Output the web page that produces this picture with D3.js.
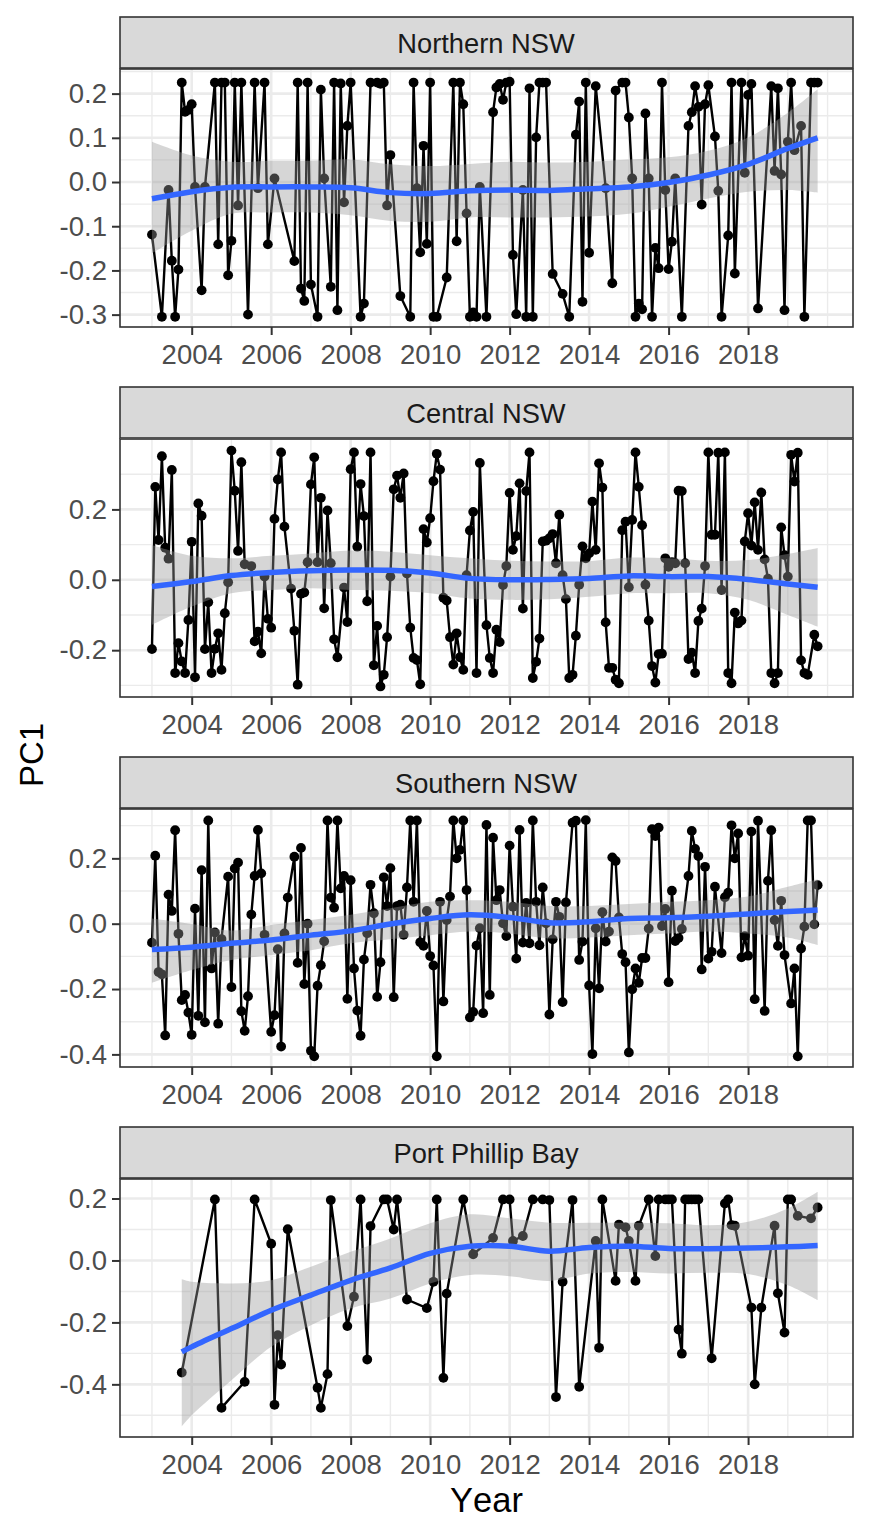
<!DOCTYPE html>
<html>
<head>
<meta charset="utf-8">
<title>PC1 by year</title>
<script src="https://cdnjs.cloudflare.com/ajax/libs/d3/7.8.5/d3.min.js"></script>
<style>
    body { margin: 0; background: #fff; }
    svg { display: block; }
    text { font-family: "Liberation Sans", Arial, sans-serif; font-kerning: none; }
</style>
</head>
<body>
<div id="chart"></div>
<script>
// Data. Months are counted from January 2003.

var regionNames = ["Northern NSW", "Central NSW", "Southern NSW", "Port Phillip Bay"];
var yearTicks = [2004, 2006, 2008, 2010, 2012, 2014, 2016, 2018];
var yearMinor = [2003, 2005, 2007, 2009, 2011, 2013, 2015, 2017, 2019, 2020];

var northTicks = [-0.3, -0.2, -0.1, 0, 0.1, 0.2];
var centralTicks = [-0.2, 0, 0.2];
var southTicks = [-0.4, -0.2, 0, 0.2];
var portTicks = [-0.4, -0.2, 0, 0.2];

var northMonths = [0,3,5,6,7,8,9,10,11,12,
    13,15,16,19,20,21,22,23,24,25,
    26,27,29,31,32,34,35,37,43,44,
    45,46,47,48,50,51,52,54,55,56,
    57,58,59,60,63,64,66,68,69,70,
    71,72,75,78,79,80,81,82,83,84,
    85,86,89,91,92,93,94,95,96,97,
    98,99,101,103,104,105,106,107,108,109,
    110,112,113,114,115,116,117,118,119,121,124,
    126,128,129,130,131,132,134,137,139,140,
    142,143,144,145,146,147,148,149,150,151,
    152,153,154,155,156,157,158,160,162,163,
    164,165,166,167,168,170,171,172,174,175,
    176,178,179,180,181,183,187,188,189,190,
    191,192,193,194,196,197,199,200,201];
var northPC1 = [-.119,-.305,-.018,-.178,-.305,-.198,.225,.159,.163,.176,
    -.011,-.245,-.011,.225,-.141,.225,.225,-.211,-.133,.225,
    -.053,.225,-.30,.225,-.014,.225,-.141,.008,-.179,.225,
    -.241,-.269,.225,-.232,-.305,.209,.008,-.237,.225,-.29,
    .223,-.046,.127,.225,-.305,-.275,.225,.225,.222,.225,
    -.053,.061,-.258,-.305,.225,-.014,-.159,.082,-.14,.225,
    -.305,-.305,-.216,.225,-.134,.225,.176,-.071,-.305,-.295,
    -.305,-.011,-.305,.158,.214,.222,.186,.225,.227,-.165,
    -.299,-.018,-.305,.212,-.305,.101,.225,.225,.225,-.208,-.253,
    -.305,.107,.182,-.271,.225,-.16,.217,-.014,-.229,.207,
    .225,.225,.146,.008,-.305,-.275,-.288,.155,.008,-.305,
    -.149,-.195,.225,-.018,-.197,-.135,.008,-.305,.127,.158,
    .217,.17,-.051,.176,.219,.103,-.02,-.305,-.121,.225,
    -.207,.225,.021,.197,.222,-.286,.217,.025,.212,.017,
    -.29,.091,.225,.072,.127,-.305,.225,.225,.225];

var centralMonths = [0,1,2,3,4,5,6,7,8,9,
    10,11,12,13,14,15,16,17,18,19,
    20,21,22,23,24,25,26,27,28,30,
    31,32,33,34,35,36,37,38,39,40,
    42,43,44,45,46,47,48,49,50,51,
    52,53,54,55,56,58,59,60,61,62,
    63,64,65,66,67,68,69,70,71,72,
    73,74,75,76,77,78,79,80,81,82,
    83,84,85,86,87,88,89,90,91,92,
    93,94,95,96,97,98,99,101,102,103,
    104,105,106,107,108,109,110,111,112,113,
    114,115,116,117,118,119,120,121,122,123,
    124,125,126,127,128,129,130,131,132,133,
    134,135,136,137,138,139,140,141,142,143,
    144,145,146,147,148,149,150,151,152,153,
    154,155,156,157,158,159,160,161,162,163,
    164,165,166,167,168,169,170,171,172,173,
    174,175,176,177,178,179,180,181,182,183,
    184,185,186,187,188,189,190,191,192,193,
    194,195,196,197,198,200,201];
var centralPC1 = [-.197,.264,.113,.351,.091,.06,.312,-.265,-.18,-.232,
    -.265,-.114,.108,-.277,.217,.182,-.197,-.064,-.265,-.196,
    -.152,-.256,-.095,-.007,.367,.253,.082,.334,.044,.039,
    -.175,-.147,-.209,.009,-.111,-.136,.173,.285,.362,.151,
    -.025,-.145,-.298,-.04,-.036,.05,.271,.348,.05,.233,
    -.081,.197,.047,-.169,-.22,-.022,-.12,.314,.362,.094,
    .272,.181,-.061,.362,-.243,-.131,-.303,-.27,-.163,.009,
    .257,.296,.233,.302,.018,-.136,-.222,-.228,-.297,.144,
    .106,.175,.28,.358,.313,-.051,-.059,-.163,-.241,-.152,
    -.22,-.256,.013,.14,.193,-.265,.332,-.129,-.222,-.265,
    -.142,-.177,-.015,.039,.247,.085,.124,.274,-.082,.252,
    .362,-.279,-.233,-.167,.109,.111,.118,.13,.047,.185,
    .013,-.055,-.279,-.27,-.159,-.014,.095,.061,.075,.222,
    .085,.331,.262,-.121,-.25,-.25,-.284,-.294,.141,.165,
    -.021,.17,.362,.264,.155,-.014,-.116,-.245,-.292,-.211,
    -.21,.061,.037,.05,.047,.253,.252,.047,-.225,-.207,
    -.265,-.117,-.082,.039,.362,.128,.128,.361,-.029,.362,
    -.265,-.294,-.093,-.124,-.116,.109,.189,.097,.22,.085,
    .248,.058,.003,-.265,-.294,-.265,.149,.07,.009,.355,
    .279,.361,-.229,-.265,-.27,-.156,-.189];

var southMonths = [0,1,2,3,4,5,6,7,8,9,
    10,11,12,13,14,15,16,17,18,19,
    20,21,23,24,25,26,27,28,29,30,
    31,32,33,34,36,37,38,39,40,41,
    43,44,45,46,47,48,49,50,51,52,
    53,54,55,56,57,58,59,60,61,62,
    63,64,65,66,67,68,69,70,71,72,
    73,74,75,76,77,78,79,80,81,82,
    83,84,85,86,87,88,89,90,91,92,
    93,94,95,96,97,98,99,100,101,102,
    103,104,105,106,107,108,109,110,111,112,
    113,114,115,116,117,118,119,120,121,122,
    123,124,125,127,128,129,130,131,132,133,
    134,135,136,137,138,139,140,141,142,143,
    144,145,146,147,148,149,150,151,152,153,
    154,155,156,157,158,159,160,162,163,164,
    165,166,167,168,169,170,172,173,174,175,
    176,177,178,179,180,181,182,183,185,186,
    187,188,189,190,191,193,194,195,196,197,
    198,199,200,201];
var southPC1 = [-.058,.208,-.148,-.155,-.342,.089,.039,.286,-.031,-.234,
    -.218,-.272,-.34,.046,-.282,.164,-.302,.316,-.137,-.027,
    -.306,-.047,.144,-.194,.169,.187,-.268,-.328,-.222,.028,
    .146,.287,.154,-.034,-.331,-.28,-.078,-.376,-.03,.08,
    .205,-.12,.232,-.185,0,-.389,-.406,-.19,-.127,-.054,
    .316,.08,.049,.316,.108,.146,-.23,.133,-.137,-.266,
    -.343,-.11,-.029,.119,.032,-.224,-.118,.142,.054,.17,
    -.225,.054,.058,-.034,.111,.316,.067,.316,-.057,-.068,
    .039,-.099,-.128,-.406,.067,-.238,.011,.083,.316,.2,
    .226,.316,.103,-.287,-.27,-.067,-.014,-.274,.302,-.218,
    .263,.072,.103,.001,-.038,.239,.052,-.107,.287,-.058,
    .064,-.06,.316,.067,-.066,.111,.001,-.278,-.048,.067,
    .021,-.24,.065,.309,.315,-.111,-.055,.317,-.189,-.399,
    -.014,-.198,.035,-.055,-.024,.203,.192,.019,-.093,-.118,
    -.394,-.201,-.137,-.181,-.105,-.105,-.015,.289,.268,.294,
    -.007,.045,-.179,.101,-.053,-.044,-.016,.146,.284,.229,
    .207,-.14,.174,-.107,-.086,.113,-.09,.081,.095,.301,
    .2,.276,-.103,-.038,-.098,.282,-.231,.315,-.267,.131,
    .286,.011,-.068,.07,-.096,-.244,-.137,-.406,-.076,-.009,
    .316,.316,-.002,.118];

var portMonths = [9,19,21,28,31,36,37,38,39,41,
    50,51,53,54,59,61,63,65,66,70,
    71,73,74,77,83,85,86,88,89,94,
    97,103,106,108,109,112,115,118,120,122,
    124,127,129,134,135,136,140,141,143,144,
    146,147,150,152,153,155,156,157,159,160,
    161,162,163,164,165,169,173,174,175,176,
    181,182,184,188,189,191,192,193,195,199,
    201];
var portPC1 = [-.362,.197,-.476,-.392,.197,.054,-.466,-.241,-.336,.101,
    -.411,-.476,-.367,.195,-.212,-.117,.197,-.32,.111,.197,
    .197,.1,.197,-.126,-.154,-.069,.197,-.379,-.107,.197,
    .02,.073,.197,.197,.063,.079,.197,.197,.195,-.441,
    -.069,.195,-.408,.063,-.282,.197,-.066,.116,.107,.063,
    -.066,.112,.197,.014,.197,.197,.197,.197,-.223,-.301,
    .197,.197,.197,.197,.197,-.316,.184,.197,.114,.112,
    -.152,-.4,-.152,.112,-.106,-.233,.197,.197,.144,.136,
    .171];

// Smoothed trend and its band, read at each year
var smoothYears = [2003,2004,2005,2006,2007,2008,2009,2010,2011,2012,2013,2014,2015,2016,2017,2018,2019,2019.75];
var portYears = [2003.75,2004,2005,2006,2007,2008,2009,2010,2011,2012,2013,2014,2015,2016,2017,2018,2019,2019.75];

var northFit = [-.038,-.022,-.012,-.011,-.011,-.013,-.024,-.026,-.02,-.018,-.019,-.015,-.011,-.001,.016,.04,.076,.10];
var northUpper = [.091,.06,.046,.048,.048,.051,.04,.036,.041,.046,.044,.046,.051,.056,.071,.101,.157,.21];
var northLower = [-.161,-.11,-.072,-.069,-.069,-.075,-.088,-.09,-.08,-.08,-.08,-.078,-.072,-.056,-.037,-.022,-.018,-.024];

var centralFit = [-.019,-.005,.012,.021,.026,.028,.027,.019,.004,0,.001,.004,.011,.009,.009,.001,-.012,-.021];
var centralUpper = [.099,.068,.061,.068,.075,.083,.08,.07,.061,.054,.052,.053,.063,.061,.054,.056,.073,.09];
var centralLower = [-.128,-.076,-.038,-.029,-.024,-.029,-.031,-.038,-.053,-.057,-.055,-.048,-.038,-.038,-.038,-.057,-.1,-.133];

var southFit = [-.079,-.072,-.06,-.05,-.035,-.022,-.001,.016,.027,.019,.003,.006,.016,.018,.023,.03,.037,.042];
var southUpper = [.016,-.001,-.021,-.004,.011,.027,.047,.067,.072,.067,.054,.054,.06,.067,.072,.083,.113,.136];
var southLower = [-.181,-.142,-.111,-.096,-.081,-.06,-.048,-.035,-.024,-.03,-.045,-.042,-.035,-.03,-.024,-.03,-.042,-.065];

var portFit = [-.295,-.279,-.22,-.161,-.112,-.064,-.024,.023,.046,.046,.03,.042,.046,.039,.038,.04,.044,.048];
var portUpper = [-.061,-.069,-.074,-.064,-.02,.028,.071,.12,.149,.136,.122,.122,.122,.12,.114,.125,.168,.222];
var portLower = [-.536,-.5,-.387,-.279,-.209,-.155,-.123,-.074,-.047,-.051,-.066,-.042,-.037,-.042,-.04,-.044,-.08,-.128];

// One entry per facet, built from the arrays above
var panels = [
    { name: regionNames[0], months: northMonths, pc1: northPC1, years: smoothYears, fit: northFit, upper: northUpper, lower: northLower, ticks: northTicks, minor: 0.05, domain: [-0.328, 0.2557] },
    { name: regionNames[1], months: centralMonths, pc1: centralPC1, years: smoothYears, fit: centralFit, upper: centralUpper, lower: centralLower, ticks: centralTicks, minor: 0.1, domain: [-0.333, 0.40] },
    { name: regionNames[2], months: southMonths, pc1: southPC1, years: smoothYears, fit: southFit, upper: southUpper, lower: southLower, ticks: southTicks, minor: 0.1, domain: [-0.4386, 0.351] },
    { name: regionNames[3], months: portMonths, pc1: portPC1, years: portYears, fit: portFit, upper: portUpper, lower: portLower, ticks: portTicks, minor: 0.1, domain: [-0.570, 0.263] }
];

var width = 870, height = 1536;
var left = 120, right = 853;
var stripTop = 17, stripHeight = 52, panelHeight = 258, facetStep = 370;

var svg = d3.select("#chart").append("svg")
    .attr("width", width)
    .attr("height", height);

var x = d3.scaleLinear().domain([2002.196, 2020.64]).range([left, right]);

function monthToYear(m) {
    return 2003 + m / 12;
}

function hyphenFormat(d) {
    return d3.format(".1f")(d).replace("\u2212", "-");
}

panels.forEach(function(p, i) {
    var top = stripTop + stripHeight + i * facetStep;
    var bottom = top + panelHeight;
    var y = d3.scaleLinear().domain(p.domain).range([bottom, top]);
    var g = svg.append("g");

    // Strip
    g.append("rect")
        .attr("x", left).attr("y", top - stripHeight)
        .attr("width", right - left).attr("height", stripHeight - 1)
        .attr("fill", "#d9d9d9").attr("stroke", "#333333").attr("stroke-width", 1.6);
    g.append("text")
        .attr("x", (left + right) / 2 - 0.5).attr("y", top - 16)
        .attr("text-anchor", "middle")
        .attr("font-size", 27.3).attr("fill", "#1a1a1a")
        .text(p.name);

    // Grid
    var minorY = [];
    var firstMinor = Math.ceil(p.domain[0] / p.minor - 1e-6);
    for (var k = firstMinor; k * p.minor <= p.domain[1]; k++) {
        var val = k * p.minor;
        if (!p.ticks.some(function(t) { return Math.abs(t - val) < 1e-6; })) minorY.push(val);
    }
    g.selectAll(".minor-y").data(minorY).enter().append("line")
        .attr("x1", left).attr("x2", right)
        .attr("y1", function(d) { return y(d); }).attr("y2", function(d) { return y(d); })
        .attr("stroke", "#ebebeb").attr("stroke-width", 1.4);
    g.selectAll(".minor-x").data(yearMinor).enter().append("line")
        .attr("y1", top).attr("y2", bottom)
        .attr("x1", function(d) { return x(d); }).attr("x2", function(d) { return x(d); })
        .attr("stroke", "#ebebeb").attr("stroke-width", 1.4);
    g.selectAll(".major-y").data(p.ticks).enter().append("line")
        .attr("x1", left).attr("x2", right)
        .attr("y1", function(d) { return y(d); }).attr("y2", function(d) { return y(d); })
        .attr("stroke", "#ebebeb").attr("stroke-width", 2.6);
    g.selectAll(".major-x").data(yearTicks).enter().append("line")
        .attr("y1", top).attr("y2", bottom)
        .attr("x1", function(d) { return x(d); }).attr("x2", function(d) { return x(d); })
        .attr("stroke", "#ebebeb").attr("stroke-width", 2.6);

    // Monthly series
    var series = p.months.map(function(m, j) {
        return { year: monthToYear(m), value: p.pc1[j] };
    });
    var line = d3.line()
        .x(function(d) { return x(d.year); })
        .y(function(d) { return y(d.value); });
    g.append("path").datum(series)
        .attr("d", line)
        .attr("fill", "none").attr("stroke", "#000").attr("stroke-width", 2.4);
    g.selectAll(".pt").data(series).enter().append("circle")
        .attr("cx", function(d) { return x(d.year); })
        .attr("cy", function(d) { return y(d.value); })
        .attr("r", 4.9)
        .attr("fill", "#000");

    // Smooth with band
    var smooth = p.years.map(function(yr, j) {
        return { year: yr, fit: p.fit[j], upper: p.upper[j], lower: p.lower[j] };
    });
    var area = d3.area()
        .x(function(d) { return x(d.year); })
        .y0(function(d) { return y(d.lower); })
        .y1(function(d) { return y(d.upper); })
        .curve(d3.curveCatmullRom);
    g.append("path").datum(smooth)
        .attr("d", area)
        .attr("fill", "#999999").attr("fill-opacity", 0.4);
    var fitLine = d3.line()
        .x(function(d) { return x(d.year); })
        .y(function(d) { return y(d.fit); })
        .curve(d3.curveCatmullRom);
    g.append("path").datum(smooth)
        .attr("d", fitLine)
        .attr("fill", "none").attr("stroke", "#3366ff").attr("stroke-width", 5.5);

    // Panel border
    g.append("rect")
        .attr("x", left).attr("y", top)
        .attr("width", right - left).attr("height", panelHeight)
        .attr("fill", "none").attr("stroke", "#333333").attr("stroke-width", 1.6);

    // Axes
    var xAxis = g.append("g")
        .attr("transform", "translate(0," + bottom + ")")
        .call(d3.axisBottom(x).tickValues(yearTicks).tickFormat(d3.format("d")).tickSize(8).tickPadding(9));
    var yAxis = g.append("g")
        .attr("transform", "translate(" + left + ",0)")
        .call(d3.axisLeft(y).tickValues(p.ticks).tickFormat(hyphenFormat).tickSize(8).tickPadding(5));
    [xAxis, yAxis].forEach(function(a) {
        a.select(".domain").remove();
        a.selectAll(".tick line").attr("stroke", "#333333").attr("stroke-width", 2);
        a.selectAll(".tick text").attr("font-size", 27.5).attr("fill", "#4d4d4d")
            .attr("font-family", '"Liberation Sans", Arial, sans-serif');
    });
});

// Axis titles
svg.append("text")
    .attr("x", (left + right) / 2).attr("y", 1512)
    .attr("text-anchor", "middle")
    .attr("font-size", 34.5).attr("fill", "#000")
    .text("Year");
svg.append("text")
    .attr("transform", "translate(43,755) rotate(-90)")
    .attr("text-anchor", "middle")
    .attr("font-size", 33).attr("fill", "#000")
    .text("PC1");
</script>
</body>
</html>
